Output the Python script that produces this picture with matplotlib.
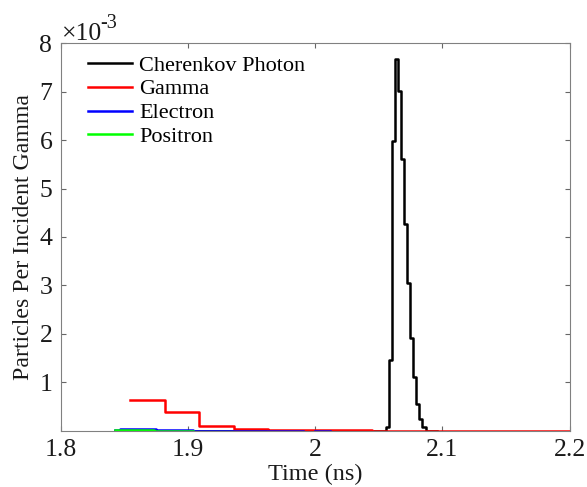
import numpy as np
import matplotlib.pyplot as plt

plt.rcParams['font.family'] = ['Liberation Serif', 'DejaVu Serif']

SCALE = 1e-3  # y values below are in units of 1e-3 particles per incident gamma

# Cherenkov photons
cher_edges = [1.8427, 2.0556, 2.0580, 2.0604, 2.0628, 2.0652, 2.0676, 2.0700,
              2.0724, 2.0748, 2.0772, 2.0796, 2.0820, 2.0844, 2.0868, 2.0956]
cher_vals = [0.0, 0.07, 1.46, 5.99, 7.68, 7.02, 5.62, 4.27, 3.04, 1.91, 1.11,
             0.56, 0.24, 0.07, 0.0]

# gamma
gam_edges = [1.8545, 1.8817, 1.9089, 1.9361, 1.9633, 1.9905, 2.0177, 2.0449,
             2.0721, 2.0993, 2.1265, 2.1537, 2.1809, 2.2081]
gam_vals = [0.63, 0.39, 0.096, 0.034, 0.008, 0.006, 0.005, 0.004, 0.004,
            0.003, 0.003, 0.003, 0.001]

# electron
ele_edges = [1.8427, 1.8467, 1.8752, 1.8792, 1.9043, 1.9905, 2.0003, 2.0118]
ele_vals = [0.01, 0.04, 0.02, 0.006, 0.004, np.nan, 0.004]

# positron
pos_edges = [1.8427, 1.8735, 1.9043]
pos_vals = [0.006, 0.004]

labels = ['Cherenkov Photon', 'Gamma', 'Electron', 'Positron']
colors = ['k', '#ff0000', '#0000ff', '#00ff00']


def stairs_xy(edges, vals):
    x = np.repeat(np.asarray(edges, float), 2)[1:-1]
    y = np.repeat(np.asarray(vals, float), 2) * SCALE
    return x, y


fig = plt.figure(figsize=(5.87, 4.87), dpi=100)
ax = fig.add_axes([0.1034, 0.1156, 0.8668, 0.7955])

series = [(cher_edges, cher_vals), (gam_edges, gam_vals),
          (ele_edges, ele_vals), (pos_edges, pos_vals)]
for (e, v), lab, c in zip(series, labels, colors):
    x, y = stairs_xy(e, v)
    ax.plot(x, y, color=c, lw=1.8, label=lab)

ax.set_xlim(1.8, 2.2)
ax.set_ylim(0, 8e-3)
ax.set_xticks([1.8, 1.9, 2.0, 2.1, 2.2])
ax.set_xticklabels(['1.8', '1.9', '2', '2.1', '2.2'])
ax.set_yticks([i * 1e-3 for i in range(1, 9)])
ax.set_yticklabels([str(i) for i in range(1, 9)])

for s in ax.spines.values():
    s.set_color('0.5')
    s.set_linewidth(0.8)
ax.tick_params(direction='in', length=3.5, width=0.8, color='0.4',
               labelsize=18.5, labelcolor='0.1', top=True, right=True, pad=6)

ax.set_xlabel('Time (ns)', fontsize=17.5, color='0.1', labelpad=2)
ax.set_ylabel('Particles Per Incident Gamma', fontsize=17.2, color='0.1', labelpad=4)

fig.text(62 / 587, 1 - 40 / 487, '\u00d710', fontsize=18.5, color='0.1',
         ha='left', va='baseline')
fig.text(100 / 587, 1 - 28 / 487, '-3', fontsize=14.5, color='0.1',
         ha='left', va='baseline')

ax.legend(loc='upper left', bbox_to_anchor=(88 / 587, 1 - 55 / 487),
          bbox_transform=fig.transFigure, frameon=False, fontsize=16,
          handlelength=2.0, handletextpad=0.3, labelspacing=0.15,
          borderpad=0, borderaxespad=0)

fig.savefig('out.png', dpi=100)
